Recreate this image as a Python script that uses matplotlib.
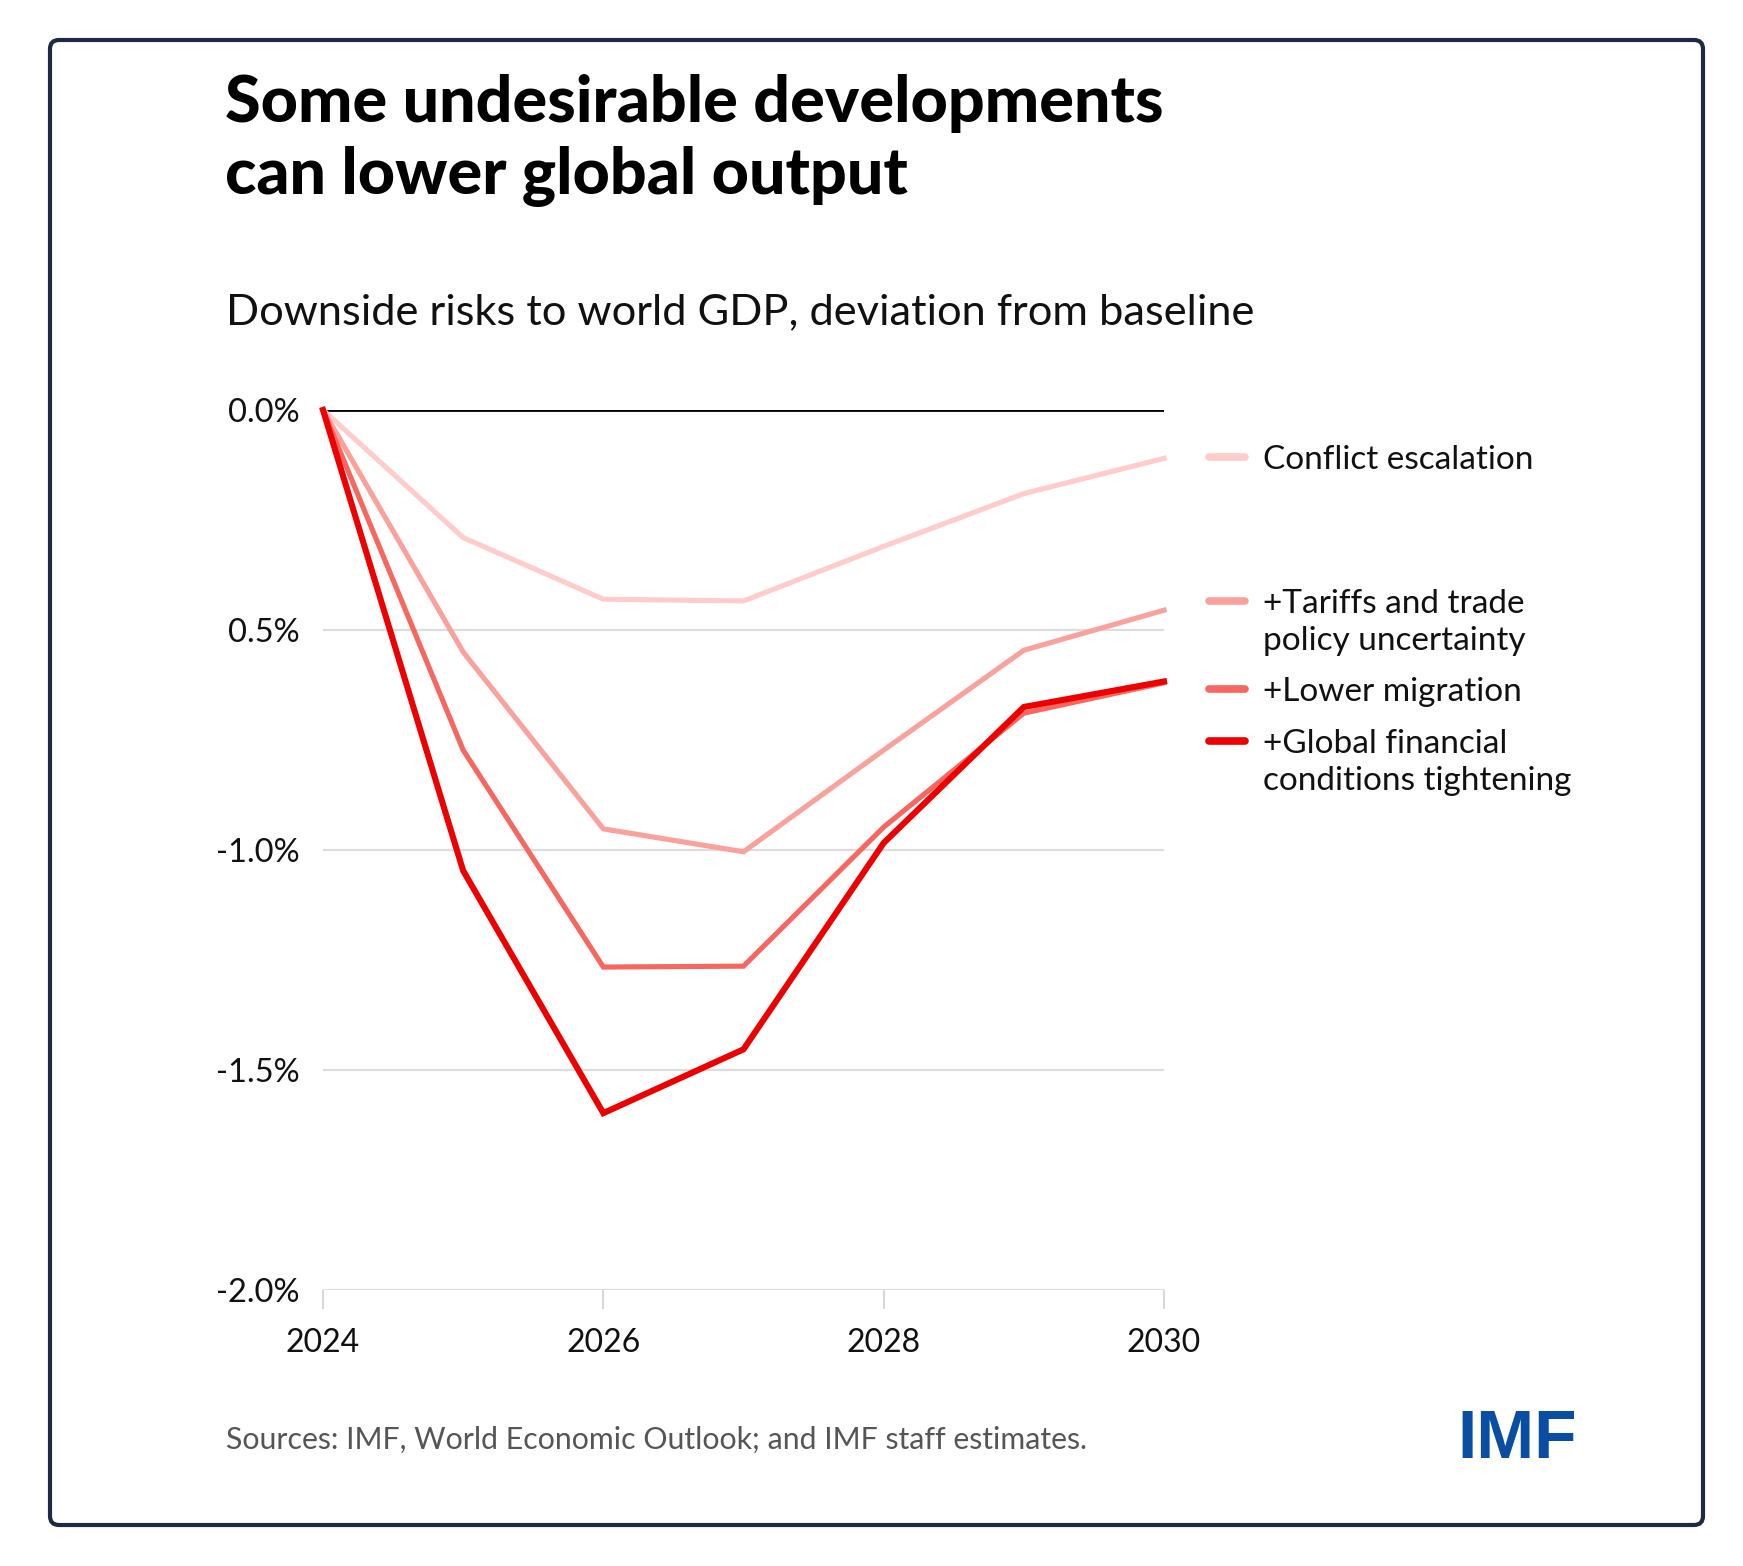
import matplotlib
matplotlib.use("Agg")
import matplotlib.pyplot as plt
from matplotlib.patches import FancyBboxPatch

plt.rcParams["font.family"] = ["Lato", "DejaVu Sans"]

years = [2024, 2025, 2026, 2027, 2028, 2029, 2030]
conflict = [0.0, -0.29, -0.43, -0.434, -0.31, -0.19, -0.11]
tariffs = [0.0, -0.55, -0.952, -1.004, -0.773, -0.546, -0.455]
migration = [0.0, -0.773, -1.266, -1.264, -0.948, -0.689, -0.62]
financial = [0.0, -1.047, -1.598, -1.453, -0.984, -0.675, -0.617]

series_names = [
    "Conflict escalation",
    "+Tariffs and trade\npolicy uncertainty",
    "+Lower migration",
    "+Global financial\nconditions tightening",
]
series_colors = ["#ffcccb", "#fba19c", "#f7665f", "#ee0000"]

y_ticks = [0.0, -0.5, -1.0, -1.5, -2.0]
y_tick_labels = ["0.0%", "0.5%", "-1.0%", "-1.5%", "-2.0%"]
x_ticks = [2024, 2026, 2028, 2030]

W, H = 1743, 1566
fig = plt.figure(figsize=(W / 100, H / 100), dpi=100)

# background layer in pixel coords for frame and texts
bg = fig.add_axes([0, 0, 1, 1])
bg.set_xlim(0, W)
bg.set_ylim(H, 0)
bg.axis("off")
bg.add_patch(FancyBboxPatch((50, 40), 1653, 1485,
                            boxstyle="round,pad=0,rounding_size=9",
                            facecolor="white", edgecolor="#1c2a44", lw=3))

bg.text(225, 122, "Some undesirable developments", fontsize=46.5,
        fontweight="black", color="black", va="baseline")
bg.text(225, 194, "can lower global output", fontsize=46.5,
        fontweight="black", color="black", va="baseline")
bg.text(226, 324, "Downside risks to world GDP, deviation from baseline",
        fontsize=31.2, color="#111111", va="baseline")
bg.text(226, 1449, "Sources: IMF, World Economic Outlook; and IMF staff estimates.",
        fontsize=21.8, color="#555555", va="baseline")
bg.text(1457, 1458, "IMF", fontsize=50, fontweight="heavy",
        family=["Liberation Sans", "DejaVu Sans"], color="#0a4ea3", va="baseline")

# legend, drawn by hand to keep the uneven spacing
legend_y = [457, 601, 689, 741]
line_gap = 37
for name, color, ly in zip(series_names, series_colors, legend_y):
    bg.plot([1209, 1245], [ly, ly], color=color, lw=5.5, solid_capstyle="round")
    extra = line_gap * name.count("\n")
    bg.text(1263, ly + 12 + extra, name, fontsize=24, color="#111111",
            va="baseline", linespacing=1.3)

ax = fig.add_axes([323 / W, 1 - 1290 / H, 841 / W, 880 / H])
ax.set_facecolor("none")
ax.set_xlim(2024, 2030)
ax.set_ylim(-2.0, 0.0)

for yt in y_ticks:
    if yt == 0:
        ax.axhline(yt, color="black", lw=2.0, zorder=1)
    else:
        ax.axhline(yt, color="#dddddd", lw=1.6, zorder=1)

all_series = [conflict, tariffs, migration, financial]
widths = [3.7, 3.7, 3.7, 4.4]
for vals, color, lw in zip(all_series, series_colors, widths):
    ax.plot(years, vals, color=color, lw=lw, clip_on=False, zorder=3,
            solid_joinstyle="miter")

ax.set_yticks(y_ticks)
ax.set_yticklabels(y_tick_labels)
ax.set_xticks(x_ticks)
ax.set_xticklabels([str(x) for x in x_ticks])
ax.tick_params(axis="y", length=0, pad=17, labelsize=23.5, labelcolor="#111111")
ax.tick_params(axis="x", length=13.5, width=1.2, color="#d0d0d0", pad=14,
               labelsize=23, labelcolor="#111111")
for s in ax.spines.values():
    s.set_visible(False)

fig.savefig("out.png", dpi=100, facecolor="white")
